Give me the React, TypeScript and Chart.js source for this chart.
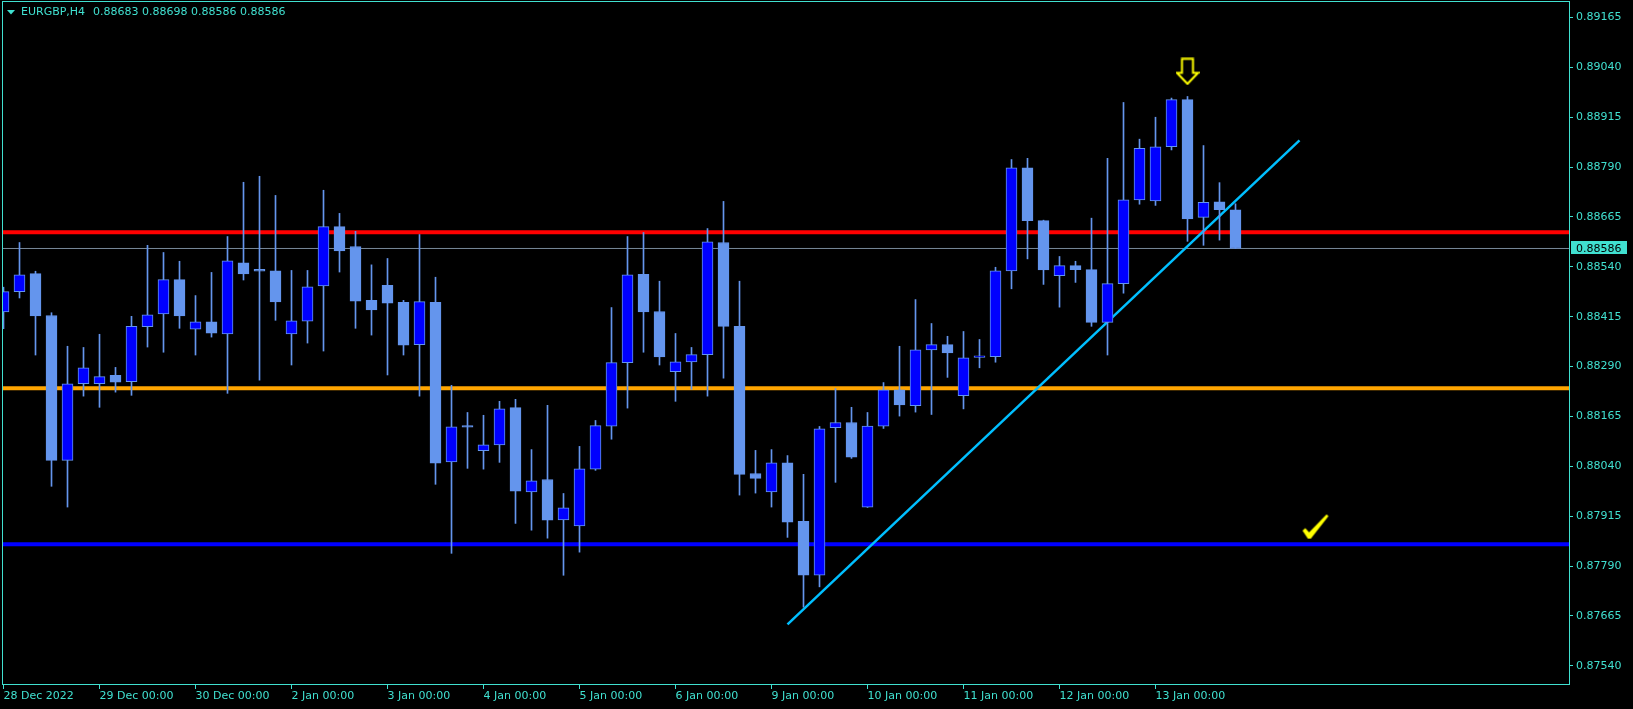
import React, { useEffect, useRef } from 'react';
import { Chart, registerables } from 'chart.js';

Chart.register(...registerables);

const SYMBOL = 'EURGBP,H4';

const openPrices = [
  0.88427, 0.88478, 0.88523, 0.88418, 0.88055, 0.88247, 0.88247, 0.88268, 0.88252, 0.8839,
  0.88422, 0.88508, 0.88384, 0.88402, 0.88372, 0.8855, 0.88534, 0.8853, 0.88372, 0.88404,
  0.88492, 0.88641, 0.88591, 0.88456, 0.88494, 0.88451, 0.88345, 0.88451, 0.88051, 0.88142,
  0.88079, 0.88094, 0.88187, 0.87976, 0.88007, 0.87906, 0.87891, 0.88033, 0.88141, 0.883,
  0.88521, 0.88428, 0.88277, 0.88302, 0.8832, 0.88601, 0.88391, 0.88022, 0.87976, 0.88049,
  0.87902, 0.87767, 0.88137, 0.8815, 0.87938, 0.88141, 0.88232, 0.88192, 0.88332, 0.88345,
  0.88217, 0.88313, 0.88315, 0.8853, 0.88788, 0.88656, 0.88518, 0.88543, 0.88533, 0.88401,
  0.88498, 0.88708, 0.88705, 0.88841, 0.88959, 0.88664, 0.88703, 0.88683,
];
const highPrices = [
  0.88489, 0.88601, 0.88529, 0.88425, 0.88341, 0.88338, 0.88371, 0.88288, 0.88416, 0.88594,
  0.88576, 0.88554, 0.88468, 0.88526, 0.88616, 0.88752, 0.88767, 0.88719, 0.88531, 0.88531,
  0.88732, 0.88674, 0.88629, 0.88545, 0.88561, 0.88456, 0.88621, 0.88514, 0.88243, 0.88175,
  0.88168, 0.88203, 0.88208, 0.88082, 0.88193, 0.87972, 0.8809, 0.88155, 0.88438, 0.88616,
  0.88626, 0.88504, 0.88373, 0.88338, 0.88636, 0.88704, 0.88504, 0.8808, 0.88082, 0.88067,
  0.8802, 0.8814, 0.88235, 0.88188, 0.88175, 0.8825, 0.88341, 0.88458, 0.88398, 0.88366,
  0.88378, 0.88358, 0.88539, 0.88809, 0.88812, 0.88657, 0.88566, 0.88554, 0.88662, 0.88812,
  0.88952, 0.8886, 0.88915, 0.88963, 0.88967, 0.88844, 0.88751, 0.88698,
];
const lowPrices = [
  0.88385, 0.88462, 0.88319, 0.8799, 0.87938, 0.88216, 0.88188, 0.88226, 0.88218, 0.88339,
  0.88326, 0.88386, 0.88319, 0.88364, 0.88223, 0.88507, 0.88256, 0.88406, 0.88294, 0.88349,
  0.88329, 0.88527, 0.88386, 0.88369, 0.88269, 0.88319, 0.88216, 0.87995, 0.87822, 0.88035,
  0.88033, 0.8805, 0.87897, 0.8788, 0.8786, 0.87767, 0.87825, 0.8803, 0.88108, 0.88186,
  0.88326, 0.88294, 0.88203, 0.88233, 0.88216, 0.88261, 0.87968, 0.87973, 0.87938, 0.87862,
  0.87687, 0.87738, 0.88, 0.8806, 0.87937, 0.88135, 0.88166, 0.88176, 0.8817, 0.88263,
  0.88184, 0.88287, 0.88301, 0.88485, 0.8856, 0.88496, 0.88439, 0.88501, 0.88391, 0.88319,
  0.88474, 0.88697, 0.88694, 0.88833, 0.88604, 0.88594, 0.88607, 0.88586,
];
const closePrices = [
  0.88478, 0.8852, 0.88417, 0.88055, 0.88247, 0.88287, 0.88265, 0.88251, 0.88391, 0.8842,
  0.88508, 0.88417, 0.88402, 0.88374, 0.88555, 0.88522, 0.88529, 0.88452, 0.88405, 0.8849,
  0.88641, 0.8858, 0.88454, 0.88432, 0.88449, 0.88344, 0.88453, 0.88048, 0.88139, 0.88138,
  0.88094, 0.88184, 0.87978, 0.88004, 0.87905, 0.87936, 0.88034, 0.88142, 0.883, 0.8852,
  0.88427, 0.88314, 0.88302, 0.8832, 0.88603, 0.88391, 0.8802, 0.8801, 0.88049, 0.879,
  0.87767, 0.88134, 0.8815, 0.88063, 0.88141, 0.88232, 0.88194, 0.88332, 0.88345, 0.88324,
  0.88312, 0.88317, 0.8853, 0.88788, 0.88656, 0.88532, 0.88543, 0.88533, 0.88401, 0.88498,
  0.88708, 0.88837, 0.88841, 0.88959, 0.8866, 0.88702, 0.88683, 0.88586,
];

const xTickIndex = [0, 6, 12, 18, 24, 30, 36, 42, 48, 54, 60, 66, 72];
const xTickLabels = [
  '28 Dec 2022', '29 Dec 00:00', '30 Dec 00:00', '2 Jan 00:00', '3 Jan 00:00', '4 Jan 00:00',
  '5 Jan 00:00', '6 Jan 00:00', '9 Jan 00:00', '10 Jan 00:00', '11 Jan 00:00', '12 Jan 00:00',
  '13 Jan 00:00',
];
const priceTicks = [
  0.8754, 0.87665, 0.8779, 0.87915, 0.8804, 0.88165, 0.8829, 0.88415, 0.8854, 0.88665,
  0.8879, 0.88915, 0.8904, 0.89165,
];

const levelPrices = [0.88627, 0.88236, 0.87845];
const levelColors = ['#FF0000', '#FFA500', '#0000FF'];
const trendIndex = [49, 81];
const trendPrices = [0.87644, 0.88857];
const arrowIndex = [74];
const arrowPrices = [0.8903];
const checkIndex = [82];
const checkPrices = [0.87889];

const X_MIN = -0.09375;
const X_MAX = 97.90625;
const Y_MIN = 0.87492;
const Y_MAX = 0.892063;

const AXIS = '#40E0D0';
const WICK = '#6495ED';
const BULL = '#0000FF';
const FONT = '"DejaVu Sans"';

function makeArrow() {
  const c = document.createElement('canvas');
  c.width = 24;
  c.height = 28;
  const g = c.getContext('2d')!;
  g.beginPath();
  g.moveTo(6.5, 1.5);
  g.lineTo(17.5, 1.5);
  g.lineTo(17.5, 15.5);
  g.lineTo(22.5, 15.5);
  g.lineTo(12, 26.5);
  g.lineTo(1.5, 15.5);
  g.lineTo(6.5, 15.5);
  g.closePath();
  g.fillStyle = '#000';
  g.fill();
  g.strokeStyle = '#FFFF00';
  g.lineWidth = 2;
  g.stroke();
  return c;
}

function makeCheck() {
  const c = document.createElement('canvas');
  c.width = 28;
  c.height = 26;
  const g = c.getContext('2d')!;
  g.beginPath();
  g.moveTo(1, 17);
  g.lineTo(3.8, 14.6);
  g.lineTo(7.6, 18.8);
  g.lineTo(25.1, 0.8);
  g.lineTo(27, 2.4);
  g.lineTo(9.4, 25);
  g.lineTo(6.4, 25);
  g.closePath();
  g.fillStyle = '#FFFF00';
  g.fill();
  return c;
}

const overlayPlugin = {
  id: 'mtOverlay',
  afterDraw(chart: any) {
    const { ctx, chartArea: a, scales } = chart;
    const n = closePrices.length - 1;
    ctx.save();
    ctx.strokeStyle = AXIS;
    ctx.lineWidth = 1;
    ctx.strokeRect(a.left + 0.5, a.top + 0.5, a.right - a.left - 1, a.bottom - a.top - 1);

    ctx.fillStyle = AXIS;
    ctx.beginPath();
    ctx.moveTo(7, 10);
    ctx.lineTo(15, 10);
    ctx.lineTo(11, 14.5);
    ctx.closePath();
    ctx.fill();
    ctx.font = `11px ${FONT}`;
    ctx.textBaseline = 'middle';
    ctx.textAlign = 'left';
    ctx.fillText(SYMBOL, 21, 12.5);
    const ohlc = [openPrices[n], highPrices[n], lowPrices[n], closePrices[n]].map((v) => v.toFixed(5)).join(' ');
    ctx.fillText(ohlc, 93, 12.5);

    const by = scales.y.getPixelForValue(closePrices[n]);
    ctx.fillRect(a.right + 1, Math.round(by) - 7, 56, 13);
    ctx.fillStyle = '#000';
    ctx.fillText(closePrices[n].toFixed(5), a.right + 6, by + 0.5);
    ctx.restore();
  },
};

export default function App() {
  const ref = useRef<HTMLCanvasElement>(null);

  useEffect(() => {
    document.body.style.margin = '0';
    document.body.style.background = '#000';
    const arrowImg = makeArrow();
    const checkImg = makeCheck();
    const idx = openPrices.map((_, i) => i);
    const bid = closePrices[closePrices.length - 1];

    const hLine = (price: number, color: string, width: number) => ({
      type: 'line',
      data: [
        { x: X_MIN, y: price },
        { x: X_MAX, y: price },
      ],
      borderColor: color,
      borderWidth: width,
      pointRadius: 0,
      fill: false,
      order: 4,
    });

    const datasets: any[] = [
      {
        type: 'line',
        data: arrowIndex.map((x, k) => ({ x, y: arrowPrices[k] })),
        showLine: false,
        pointStyle: arrowImg,
        pointRadius: 5,
        order: 0,
      },
      {
        type: 'line',
        data: checkIndex.map((x, k) => ({ x, y: checkPrices[k] })),
        showLine: false,
        pointStyle: checkImg,
        pointRadius: 5,
        order: 0,
      },
      {
        type: 'bar',
        data: idx.map((i) => ({ x: i, y: [openPrices[i], closePrices[i]] })),
        backgroundColor: idx.map((i) => (closePrices[i] > openPrices[i] ? BULL : WICK)),
        borderColor: WICK,
        borderWidth: 1,
        borderSkipped: false,
        barThickness: 11,
        minBarLength: 1,
        grouped: false,
        order: 1,
      },
      {
        type: 'bar',
        data: idx.map((i) => ({ x: i, y: [lowPrices[i], highPrices[i]] })),
        backgroundColor: WICK,
        borderWidth: 0,
        barThickness: 1,
        grouped: false,
        order: 2,
      },
      {
        type: 'line',
        data: trendIndex.map((x, k) => ({ x, y: trendPrices[k] })),
        borderColor: '#00BFFF',
        borderWidth: 2.5,
        pointRadius: 0,
        fill: false,
        order: 3,
      },
      ...levelPrices.map((p, k) => hLine(p, levelColors[k], 4)),
      hLine(bid, '#778899', 1),
    ];

    const chart = new Chart(ref.current!, {
      type: 'bar',
      data: { datasets },
      options: {
        responsive: false,
        devicePixelRatio: 1,
        animation: false,
        events: [],
        layout: { autoPadding: false, padding: { left: 2, top: 1, right: 0, bottom: 0 } },
        plugins: { legend: { display: false }, tooltip: { enabled: false } },
        scales: {
          x: {
            type: 'linear',
            min: X_MIN,
            max: X_MAX,
            offset: false,
            border: { display: false },
            grid: {
              offset: false,
              drawOnChartArea: false,
              drawTicks: true,
              tickLength: 4,
              color: AXIS,
              tickColor: AXIS,
            },
            ticks: {
              color: AXIS,
              font: { family: 'DejaVu Sans', size: 11 },
              align: 'start',
              maxRotation: 0,
              minRotation: 0,
              autoSkip: false,
              padding: 1,
              callback: (v: any) => {
                const k = xTickIndex.indexOf(Number(v));
                return k >= 0 ? xTickLabels[k] : '';
              },
            },
            afterBuildTicks: (s: any) => {
              s.ticks = xTickIndex.map((v) => ({ value: v }));
            },
            afterFit: (s: any) => {
              s.height = 24;
              s.paddingLeft = 0;
              s.paddingRight = 0;
              s.paddingTop = 0;
              s.paddingBottom = 0;
            },
          },
          y: {
            type: 'linear',
            position: 'right',
            min: Y_MIN,
            max: Y_MAX,
            beginAtZero: false,
            border: { display: false },
            grid: {
              drawOnChartArea: false,
              drawTicks: true,
              tickLength: 3,
              color: AXIS,
              tickColor: AXIS,
            },
            ticks: {
              color: AXIS,
              font: { family: 'DejaVu Sans', size: 11 },
              padding: 3,
              callback: (v: any) => Number(v).toFixed(5),
            },
            afterBuildTicks: (s: any) => {
              s.ticks = priceTicks.map((v) => ({ value: v }));
            },
            afterFit: (s: any) => {
              s.width = 63;
              s.paddingLeft = 0;
              s.paddingRight = 0;
              s.paddingTop = 0;
              s.paddingBottom = 0;
            },
          },
        },
      } as any,
      plugins: [overlayPlugin],
    } as any);

    return () => chart.destroy();
  }, []);

  return (
    <div style={{ position: 'absolute', left: 0, top: 0, width: 1633, height: 709, background: '#000' }}>
      <canvas ref={ref} width={1633} height={709} style={{ display: 'block', width: 1633, height: 709 }} />
    </div>
  );
}
